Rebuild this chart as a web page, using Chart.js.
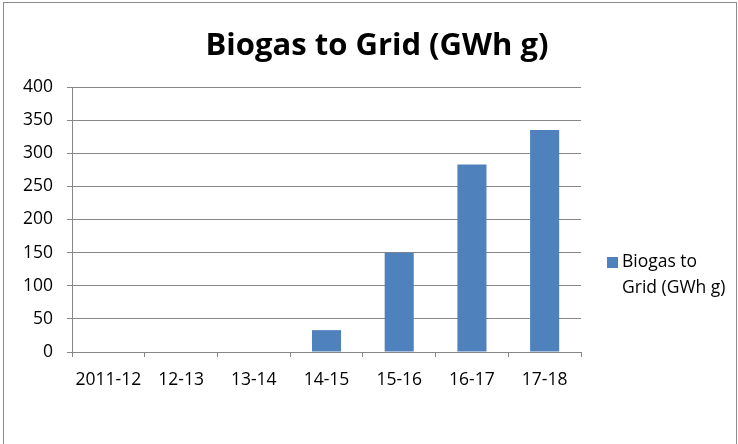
<!DOCTYPE html>
<html lang="en">
<head>
  <meta charset="UTF-8" />
  <title>Biogas to Grid</title>
  <script src="https://cdn.jsdelivr.net/npm/chart.js"></script>
  <style>
    html, body { margin: 0; padding: 0; background: #fff; overflow: hidden; }
    #wrap { position: relative; width: 738px; height: 444px; }
    #frame { position: absolute; left: 3px; top: 2px; width: 732px; height: 470px; border: 1px solid #8c8c8c; pointer-events: none; }
  </style>
</head>
<body>
  <div id="wrap">
    <canvas id="grafico"></canvas>
    <div id="frame"></div>
  </div>
<script>
// dados do grafico
const categorias = ['2011-12', '12-13', '13-14', '14-15', '15-16', '16-17', '17-18'];
const valores = [0, 0, 0, 33, 150, 283, 335];
const nomeSerie = 'Biogas to Grid (GWh g)';
const legendaLinhas = ['Biogas to', 'Grid (GWh g)'];

const corBarra = '#4F81BD';
const corGrade = '#878787';
const fonte = "'Open Sans', sans-serif";

// titulo e legenda desenhados a mao (legenda em duas linhas, como no original)
const textosPlugin = {
  id: 'textos',
  afterDraw(chart) {
    const ctx = chart.ctx;
    ctx.save();
    ctx.fillStyle = '#000';
    ctx.font = 'bold 31px ' + fonte;
    ctx.textAlign = 'center';
    ctx.textBaseline = 'middle';
    ctx.fillText(nomeSerie, 377, 46);

    ctx.fillStyle = corBarra;
    ctx.fillRect(607, 257, 11, 11);
    ctx.fillStyle = '#000';
    ctx.font = '17.5px ' + fonte;
    ctx.textAlign = 'left';
    ctx.fillText(legendaLinhas[0], 622, 262);
    ctx.fillText(legendaLinhas[1], 622, 288);
    ctx.restore();
  }
};

const config = {
  type: 'bar',
  data: {
    labels: categorias,
    datasets: [{
      label: nomeSerie,
      data: valores,
      backgroundColor: corBarra,
      borderWidth: 0,
      categoryPercentage: 1.0,
      barPercentage: 0.4
    }]
  },
  options: {
    responsive: true,
    maintainAspectRatio: false,
    animation: false,
    layout: { padding: { left: 16, right: 157, top: 87, bottom: 0 } },
    plugins: {
      legend: { display: false },
      tooltip: { enabled: false },
      title: { display: false }
    },
    scales: {
      x: {
        grid: { drawOnChartArea: false, drawTicks: true, tickLength: 5, color: corGrade, offset: true },
        border: { color: corGrade },
        ticks: { color: '#000', font: { family: fonte, size: 17.5 }, padding: 13, maxRotation: 0 },
        afterFit(scale) { scale.height = 92; }
      },
      y: {
        min: 0,
        max: 400,
        ticks: { stepSize: 50, color: '#000', font: { family: fonte, size: 17.5 }, padding: 14 },
        grid: { color: corGrade, tickLength: 5 },
        border: { color: corGrade },
        afterFit(scale) { scale.width = 56; }
      }
    }
  },
  plugins: [textosPlugin]
};

new Chart(document.getElementById('grafico'), config);
</script>
</body>
</html>
